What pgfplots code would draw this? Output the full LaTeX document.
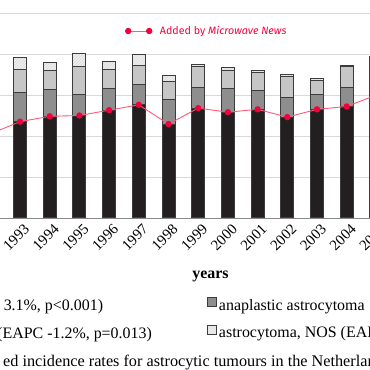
\documentclass[border=0pt]{standalone}
\usepackage{pgfplots}
\pgfplotsset{compat=1.18}
\usepackage{pgfplotstable}
\usepackage{fontspec}
\setmainfont{Liberation Serif}
\newfontfamily\redfont{Fira Sans}
\usetikzlibrary{patterns}
\definecolor{glio}{HTML}{231F20}
\definecolor{ana}{HTML}{8E8E8E}
\definecolor{diff}{HTML}{C6C6C6}
\definecolor{nos}{HTML}{EFEFEF}
\definecolor{edge}{HTML}{3C3C3C}
\definecolor{mwred}{HTML}{F5003C}
\definecolor{mwline}{HTML}{FF5A78}
\definecolor{gridc}{HTML}{D9D9D9}
\definecolor{axc}{HTML}{8A8A8A}

\pgfplotstableread{
year glio ana diff nos
1992 2.05 0.70 0.60 0.30
1993 2.35 0.71 0.57 0.29
1994 2.48 0.66 0.45 0.20
1995 2.50 0.52 0.68 0.32
1996 2.63 0.53 0.47 0.18
1997 2.76 0.50 0.47 0.25
1998 2.29 0.61 0.44 0.14
1999 2.68 0.51 0.50 0.06
2000 2.58 0.57 0.44 0.09
2001 2.65 0.45 0.44 0.05
2002 2.46 0.48 0.52 0.05
2003 2.65 0.36 0.35 0.05
2004 2.72 0.46 0.52 0.02
2005 3.00 0.45 0.45 0.05
}\rates

\pgfplotsset{
  barleg/.style={legend image code/.code={\draw[##1, line width=0.8bp] (0bp,-1bp) rectangle (9bp,8bp);}},
  baseaxis/.style={
    at={(-83.95bp,152bp)}, anchor=south west,
    x=29.7bp, y=41bp,
    xmin=1989.5, xmax=2009.33, ymin=0, ymax=5,
  }
}

\begin{document}
\begin{tikzpicture}
\useasboundingbox (0,0) rectangle (370bp,370bp);
\clip (0,0) rectangle (370bp,370bp);
\begin{axis}[
  baseaxis,
  ybar stacked, bar width=13bp,
  axis x line*=bottom, axis y line*=left,
  axis line style={axc, line width=0.8bp},
  ymajorgrids, grid style={gridc, line width=0.8bp},
  ytick={0,1,2,3,4,5},
  xtick={1990,1991,...,2009},
  xticklabels={1990,1991,1992,1993,1994,1995,1996,1997,1998,1999,2000,2001,2002,2003,2004,2005,2006,2007,2008,2009},
  scaled x ticks=false,
  minor x tick num=1,
  major tick length=0pt, minor tick length=5bp,
  tick align=outside,
  tick style={axc, line width=0.8bp},
  xticklabel style={rotate=45, anchor=east, xshift=2bp, yshift=-11bp, font=\fontsize{15}{17}\selectfont},
  xlabel={years},
  xlabel style={at={(axis description cs:0.5,0)}, anchor=base, yshift=-60bp, font=\bfseries\fontsize{16}{19}\selectfont},
  legend columns=2,
  legend cell align=left,
  legend style={at={(axis description cs:-0.1035,-0.385)}, anchor=north west,
    draw=none, fill=none, inner sep=0pt, row sep=13bp,
    nodes={inner sep=0pt},
    font=\fontsize{16}{19}\selectfont,
    /tikz/every odd column/.append style={column sep=2.3bp},
    /tikz/every even column/.append style={column sep=55bp}},
]
\addplot[barleg, fill=glio, draw=edge, line width=1bp] table[x=year,y=glio]{\rates};
\addlegendentry{glioblastoma (EAPC 3.1\%, p<0.001)}
\addplot[barleg, fill=ana, draw=edge, line width=1bp] table[x=year,y=ana]{\rates};
\addlegendentry{anaplastic astrocytoma}
\addplot[barleg, fill=diff, draw=edge, line width=1bp] table[x=year,y=diff]{\rates};
\addlegendentry{diffuse astrocytoma (EAPC -1.2\%, p=0.013)}
\addplot[barleg, fill=nos, draw=edge, line width=1bp, postaction={pattern=north east lines, pattern color=black!18}] table[x=year,y=nos]{\rates};
\addlegendentry{astrocytoma, NOS (EAPC}
\end{axis}
\begin{axis}[
  baseaxis, hide axis,
  legend style={at={(axis description cs:0.3553,0.912)}, anchor=west,
    draw=none, fill=none, inner sep=0pt, nodes={inner sep=0pt},
    font=\redfont\fontsize{10.7}{12}\selectfont, text=mwred,
    /tikz/every odd column/.append style={column sep=8bp}},
  legend image code/.code={\draw[#1] plot coordinates {(0bp,0bp) (21bp,0bp)};},
]
\addplot[mwline, line width=0.9bp, mark=*, mark size=2.7bp, mark options={draw=mwred, fill=mwred, solid}] table[x=year,y=glio]{\rates};
\addlegendentry{Added by \textit{Microwave News}}
\end{axis}
\node[anchor=base west, inner sep=0pt, font=\fontsize{16.3}{19}\selectfont] at (3bp,4bp) {\llap{Figure 2. Age-standardis\kern4bp}ed incidence rates for astrocytic tumours in the Netherlands, 1989--2010};
\end{tikzpicture}
\end{document}
